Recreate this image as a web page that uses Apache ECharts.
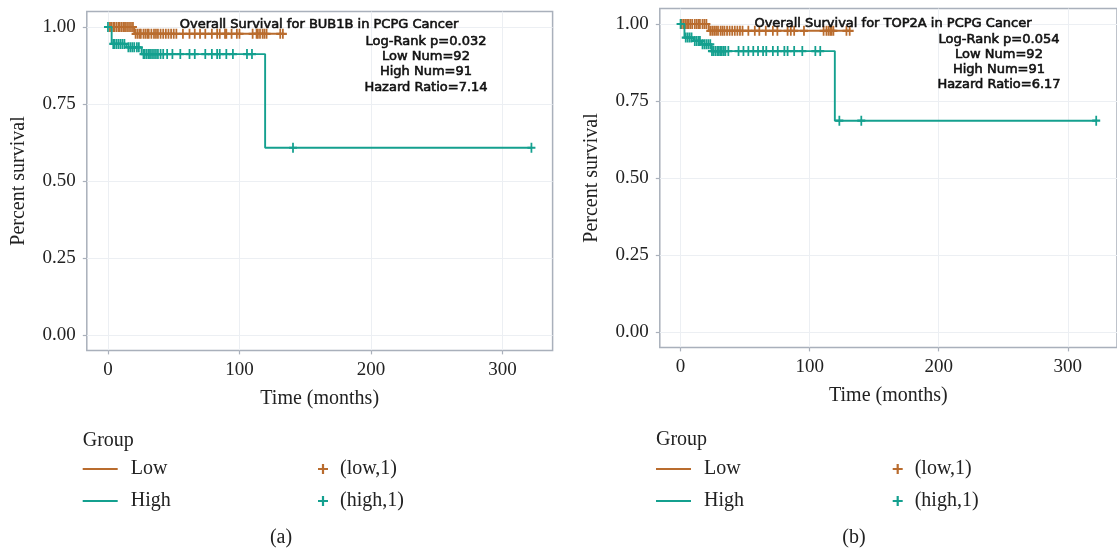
<!DOCTYPE html>
<html>
<head>
<meta charset="utf-8">
<script src="https://cdn.jsdelivr.net/npm/echarts@6/dist/echarts.min.js"></script>
<style>
html,body{margin:0;padding:0;background:#fff;}
#chart{width:1117px;height:550px;}
</style>
</head>
<body>
<div id="chart"></div>
<script>
// ---------- data ----------
const timeTicks = [0, 100, 200, 300];
const survTicks = [0, 0.25, 0.5, 0.75, 1];
const groupNames = ['Low', 'High'];
const censorNames = ['(low,1)', '(high,1)'];
const panelTitles = ['Overall Survival for BUB1B in PCPG Cancer', 'Overall Survival for TOP2A in PCPG Cancer'];
const panelStatsA = ['Log-Rank p=0.032', 'Low Num=92', 'High Num=91', 'Hazard Ratio=7.14'];
const panelStatsB = ['Log-Rank p=0.054', 'Low Num=92', 'High Num=91', 'Hazard Ratio=6.17'];
const captions = ['(a)', '(b)'];

// Panel (a): BUB1B  — KM steps [time, survival]
const bub1bLowSteps = [[0, 1], [20, 0.978], [133, 0.978]];
const bub1bHighSteps = [[0, 1], [2.8, 0.945], [14, 0.934], [25.6, 0.912], [119.5, 0.608], [322, 0.608]];
const bub1bLowCensor = [1.5, 2.5, 4, 5, 6.5, 8, 9, 10.5, 12, 13, 14.5, 16, 17.5, 19,
  21, 22.5, 24, 25, 27, 28.5, 30, 31, 33, 35, 36.5, 38, 40, 42, 44, 46, 48, 50, 52, 57, 62, 66, 70, 74,
  79, 83, 85, 89, 90, 94, 98, 100, 110, 113, 114, 115.6, 117.6, 119, 120.6, 131, 133];
const bub1bHighCensor = [0, 4, 5, 6.5, 8, 9.5, 11, 12.5, 15.5, 17, 18.5, 20, 22, 23.5,
  27, 28, 29.5, 31, 32, 33.5, 35, 36.5, 38, 40, 42, 45, 49, 55, 62, 66, 74, 79, 83, 85, 90, 95,
  105.7, 109.5, 140.7, 322];

// Panel (b): TOP2A
const top2aLowSteps = [[0, 1], [21.8, 0.978], [131, 0.978]];
const top2aHighSteps = [[0, 1], [3, 0.956], [10, 0.945], [16, 0.934], [24, 0.912], [119.5, 0.686], [322, 0.686]];
const top2aLowCensor = [0.5, 2, 3.5, 5, 6, 7.5, 9, 11, 12.5, 14, 15, 17, 18.5, 20,
  23, 24.5, 26, 27.5, 29, 31, 32.5, 34, 36, 38, 40, 42, 44, 46, 48, 52.5, 57.5, 61, 66, 71.5, 75,
  82.9, 85.4, 88, 95.6, 110.8, 113, 114.6, 116, 117, 118.4, 128.5, 131];
const top2aHighCensor = [0, 4, 5.5, 7, 8.5, 11, 12.5, 14, 15, 17, 18.5, 20, 21.5, 23,
  24.3, 25.5, 27, 28.5, 29.7, 31, 32, 33.5, 34.7, 37, 44.9, 48.7, 52.5, 56.3, 60, 63.9, 66.4, 71.5,
  75.3, 80.4, 82.9, 88, 94.3, 104.4, 108.2, 123, 140, 322];

// ---------- styling ----------
const LOW = '#B96C2E';
const HIGH = '#14A08F';
const FRAME = '#A9B0BB';
const GRIDC = '#ECEFF3';
const SERIF = '"Liberation Serif", "DejaVu Serif", serif';
const SANS = '"DejaVu Sans", sans-serif';
const PLUS = 'path://M3.9,0H6.1V3.9H10V6.1H6.1V10H3.9V6.1H0V3.9H3.9Z';

function survAt(steps, t) {
  let s = steps[0][1];
  for (const p of steps) { if (p[0] <= t) s = p[1]; else break; }
  return s;
}

const panels = [
  {low: bub1bLowSteps, high: bub1bHighSteps, lowC: bub1bLowCensor, highC: bub1bHighCensor,
   grid: {left: 86.8, top: 11.6, width: 465.8, height: 338.8}},
  {low: top2aLowSteps, high: top2aHighSteps, lowC: top2aLowCensor, highC: top2aHighCensor,
   grid: {left: 659.8, top: 8.6, width: 465.8, height: 338.8}}
];

const grids = [], xAxes = [], yAxes = [], series = [];
panels.forEach((p, i) => {
  grids.push(Object.assign({show: true, borderColor: FRAME, borderWidth: 1.5, backgroundColor: '#fff'}, p.grid));
  xAxes.push({
    type: 'value', gridIndex: i, min: -16.1, max: 338.1, position: 'bottom',
    name: 'Time (months)', nameLocation: 'middle', nameGap: 38,
    nameTextStyle: {fontFamily: SERIF, fontSize: 20, color: '#222'},
    axisLine: {show: false, onZero: false},
    axisTick: {show: true, length: 4, lineStyle: {color: FRAME, width: 1.2}, customValues: timeTicks},
    axisLabel: {customValues: timeTicks, fontFamily: SERIF, fontSize: 19, color: '#222', margin: 10},
    splitLine: {show: true, lineStyle: {color: GRIDC, width: 1}}
  });
  yAxes.push({
    type: 'value', gridIndex: i, min: -0.05, max: 1.05, position: 'left',
    name: 'Percent survival', nameLocation: 'middle', nameGap: 58, nameRotate: 90,
    nameTextStyle: {fontFamily: SERIF, fontSize: 20, color: '#222'},
    axisLine: {show: false, onZero: false},
    axisTick: {show: true, length: 4, lineStyle: {color: FRAME, width: 1.2}, customValues: survTicks},
    axisLabel: {customValues: survTicks, formatter: v => v.toFixed(2), fontFamily: SERIF, fontSize: 19, color: '#222', margin: 11},
    splitLine: {show: true, lineStyle: {color: GRIDC, width: 1}}
  });
  series.push({
    type: 'line', name: groupNames[0], xAxisIndex: i, yAxisIndex: i, step: 'end', symbol: 'none',
    data: p.low, lineStyle: {color: LOW, width: 1.9}, itemStyle: {color: LOW}, z: 2, silent: true
  });
  series.push({
    type: 'line', name: groupNames[1], xAxisIndex: i, yAxisIndex: i, step: 'end', symbol: 'none',
    data: p.high, lineStyle: {color: HIGH, width: 1.9}, itemStyle: {color: HIGH}, z: 3, silent: true
  });
  series.push({
    type: 'scatter', name: censorNames[0], xAxisIndex: i, yAxisIndex: i, symbol: PLUS, symbolSize: [8, 10],
    data: p.lowC.map(t => [t, survAt(p.low, t)]), itemStyle: {color: LOW, opacity: 1}, z: 2, silent: true
  });
  series.push({
    type: 'scatter', name: censorNames[1], xAxisIndex: i, yAxisIndex: i, symbol: PLUS, symbolSize: [8, 10],
    data: p.highC.map(t => [t, survAt(p.high, t)]), itemStyle: {color: HIGH, opacity: 1}, z: 3, silent: true
  });
});

const legendText = {fontFamily: SERIF, fontSize: 20, color: '#222', lineHeight: 20};
function lineLegend(left) {
  return {orient: 'vertical', left: left, top: 459, padding: 0, itemGap: 12, selectedMode: false,
    icon: 'rect', itemWidth: 35, itemHeight: 2.2, data: groupNames,
    textStyle: Object.assign({padding: [0, 0, 0, 8]}, legendText)};
}
function markLegend(left) {
  return {orient: 'vertical', left: left, top: 459, padding: 0, itemGap: 12, selectedMode: false,
    icon: PLUS, itemWidth: 10, itemHeight: 10, data: censorNames,
    textStyle: Object.assign({padding: [0, 0, 0, 7]}, legendText)};
}

function annot(x, y, text) {
  return {type: 'text', x: x, y: y, z: 10,
    style: {text: text, fill: '#111', font: '13px ' + SANS, textAlign: 'center', textVerticalAlign: 'middle',
      stroke: '#111', lineWidth: 0.6}};
}
const statYs = [41.5, 57, 72, 87.5];
const statYsB = [40, 55, 70, 85];
const graphics = [
  annot(319, 25, panelTitles[0]),
  annot(893, 23.5, panelTitles[1])
];
panelStatsA.forEach((t, k) => graphics.push(annot(426, statYs[k], t)));
panelStatsB.forEach((t, k) => graphics.push(annot(999, statYsB[k], t)));
graphics.push({type: 'text', x: 82.7, y: 441, style: {text: 'Group', fill: '#222', font: '20px ' + SERIF, textVerticalAlign: 'middle'}});
graphics.push({type: 'text', x: 656, y: 440, style: {text: 'Group', fill: '#222', font: '20px ' + SERIF, textVerticalAlign: 'middle'}});
graphics.push({type: 'text', x: 281, y: 538, style: {text: captions[0], fill: '#222', font: '20px ' + SERIF, textAlign: 'center', textVerticalAlign: 'middle'}});
graphics.push({type: 'text', x: 854, y: 538, style: {text: captions[1], fill: '#222', font: '20px ' + SERIF, textAlign: 'center', textVerticalAlign: 'middle'}});

const chart = echarts.init(document.getElementById('chart'), null, {renderer: 'canvas'});
chart.setOption({
  animation: false,
  backgroundColor: '#fff',
  grid: grids,
  xAxis: xAxes,
  yAxis: yAxes,
  legend: [lineLegend(82.7), markLegend(318), lineLegend(656), markLegend(892.7)],
  series: series,
  graphic: graphics
});
</script>
</body>
</html>
